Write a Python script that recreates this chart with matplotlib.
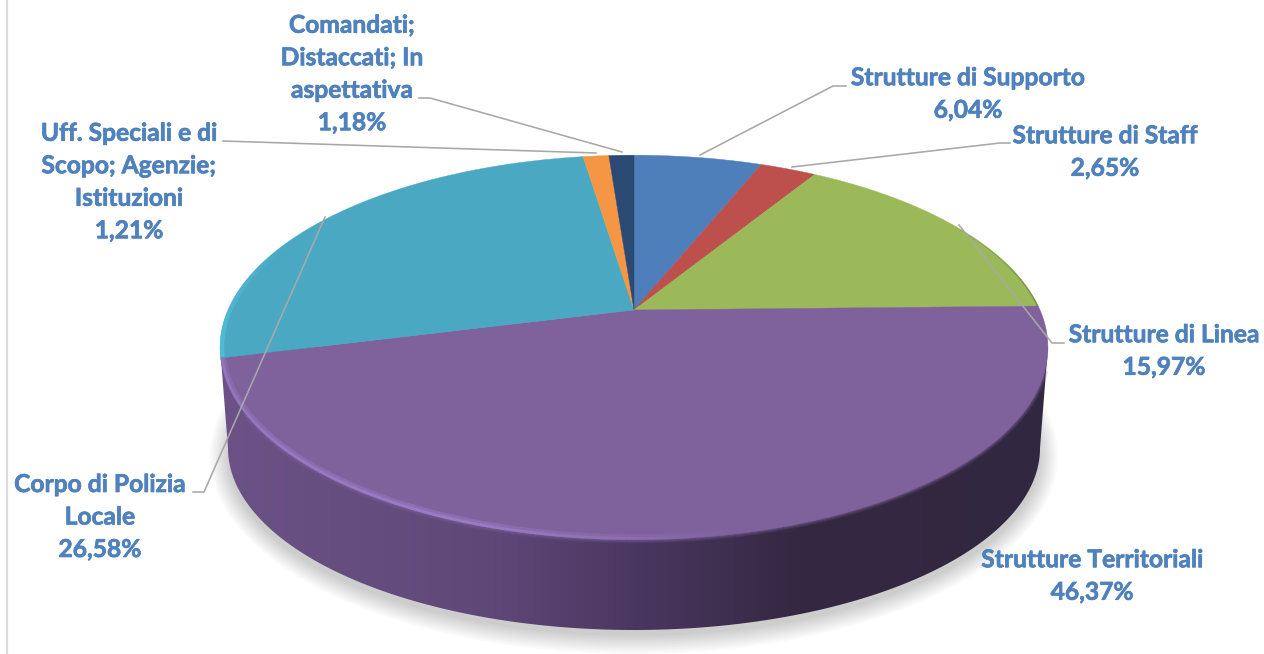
import numpy as np
from matplotlib import pyplot as plt
from matplotlib import patheffects
from matplotlib.collections import LineCollection
from matplotlib.colors import LinearSegmentedColormap, to_rgba
from matplotlib.patches import Ellipse, Polygon

plt.rcParams['font.family'] = ['Lato', 'DejaVu Sans']

names = ["Strutture di Supporto", "Strutture di Staff", "Strutture di Linea",
         "Strutture Territoriali", "Corpo di Polizia\nLocale",
         "Uff. Speciali e di\nScopo; Agenzie;\nIstituzioni",
         "Comandati;\nDistaccati; In\naspettativa"]
values = [6.04, 2.65, 15.97, 46.37, 26.58, 1.21, 1.18]
colors = ["#4f7fba", "#bd504d", "#9bb959", "#7f619c", "#4aa8c3", "#f49644", "#2a4a73"]

label_xy = [(968, 94), (1105, 152), (1164, 351), (1092, 576), (100, 517), (129, 182), (352, 74)]
leaders = [[(700, 155), (833, 86), (846, 86)],
           [(792, 167), (1000, 143), (1010, 143)],
           [(959, 225), (1052, 343), (1064, 343)],
           [],
           [(325, 217), (204, 492), (193, 492)],
           [(596, 153), (223, 141)],
           [(622, 152), (430, 98), (419, 98)]]

# pie geometry in pixels, the top face is a tilted disc seen in perspective
cx, cy = 634, 310
R, A, K = 406, 185, 0.195


def project(t):
    # t is clockwise from twelve o'clock, radians
    den = 1 + K*np.cos(t)
    return cx + R*np.sin(t)/den, cy - A*np.cos(t)/den


def arc(deg0, deg1, n=200):
    return np.column_stack(project(np.radians(np.linspace(deg0, deg1, n))))


def rim(ax, deg0, deg1, color, alpha0, alpha1, lw, clip=None):
    pts = arc(deg0, deg1)
    segs = np.stack([pts[:-1], pts[1:]], axis=1)
    rgba = [to_rgba(color, a) for a in np.linspace(alpha0, alpha1, len(segs))]
    lc = LineCollection(segs, colors=rgba, linewidths=lw, capstyle='butt', zorder=6)
    ax.add_collection(lc)
    if clip is not None:
        lc.set_clip_path(clip)
    return lc


fig = plt.figure(figsize=(12.64, 6.54), dpi=100)
ax = fig.add_axes([0, 0, 1, 1])

# frame line on the left
ax.plot([7, 7], [0, 654], color="#dcdcdc", lw=1.6, zorder=1)

# soft shadow under the disc
for d in np.arange(20, 0, -2):
    ax.add_patch(Ellipse((634, 456), 2*(404 + d), 2*(178 + d), fc="k", ec="none", alpha=0.018, zorder=2))

# side wall
full = arc(0, 360, 720)
left = full[full[:, 0].argmin()]
right = full[full[:, 0].argmax()]
th = np.linspace(0, np.pi, 300)
wall = np.column_stack([634 + 406*np.cos(th), 448 + 182*np.sin(th)])
wall = np.vstack([wall, left, right])
shade = LinearSegmentedColormap.from_list("side", [(0, "#6c5286"), (0.33, "#5f4878"),
                                                   (0.5, "#4a3760"), (0.7, "#352842"),
                                                   (1, "#322740")])
im = ax.imshow(np.linspace(0, 1, 512)[None, :], cmap=shade, aspect="auto",
               extent=(220, 1048, 640, 300), zorder=3)
im.set_clip_path(Polygon(wall, transform=ax.transData))

# blurred edge between the face and the dark wall
for lw, alpha in [(7, 0.15), (5, 0.2), (3, 0.3)]:
    rim(ax, 108, 240, "#7f619c", alpha, alpha, lw*0.72).set_zorder(4)

# top face
start = 0
for v, c in zip(values, colors):
    end = start + v*3.6
    pts = np.vstack([[cx, cy], arc(start, end, max(int(v*8), 8))])
    ax.add_patch(Polygon(pts, closed=True, fc=c, ec=c, lw=0.3, zorder=5))
    start = end

# rim highlights stay inside the disc
disc = Polygon(full, transform=ax.transData)
rim(ax, 255.7, 200, "#9a7ac4", 0.4, 0.6, 8, disc)
rim(ax, 200, 165, "#9a7ac4", 0.6, 0.0, 8, disc)
rim(ax, 255.7, 200, "#a07fcb", 0.55, 0.85, 4, disc)
rim(ax, 200, 170, "#a07fcb", 0.85, 0.0, 4, disc)
rim(ax, 256, 295, "#52c4e2", 0.95, 0.0, 6, disc)
rim(ax, 60, 88.8, "#5d7236", 0.0, 0.9, 1.6, disc)

# leader lines
for line in leaders:
    if line:
        xs, ys = zip(*line)
        ax.plot(xs, ys, color="#a8a8a8", lw=1.15, solid_joinstyle="miter", zorder=7)

# data labels
for name, v, (x, y) in zip(names, values, label_xy):
    text = name + "\n" + f"{v:.2f}".replace(".", ",") + "%"
    ax.text(x, y, text, ha="center", va="center", color="#4f81bd", fontsize=17.7,
            fontweight="bold", linespacing=1.5, zorder=8,
            path_effects=[patheffects.withStroke(linewidth=0.5, foreground="#4f81bd")])

ax.set_xlim(0, 1264)
ax.set_ylim(654, 0)
ax.axis("off")
fig.savefig("out.png", dpi=100, facecolor="white")
